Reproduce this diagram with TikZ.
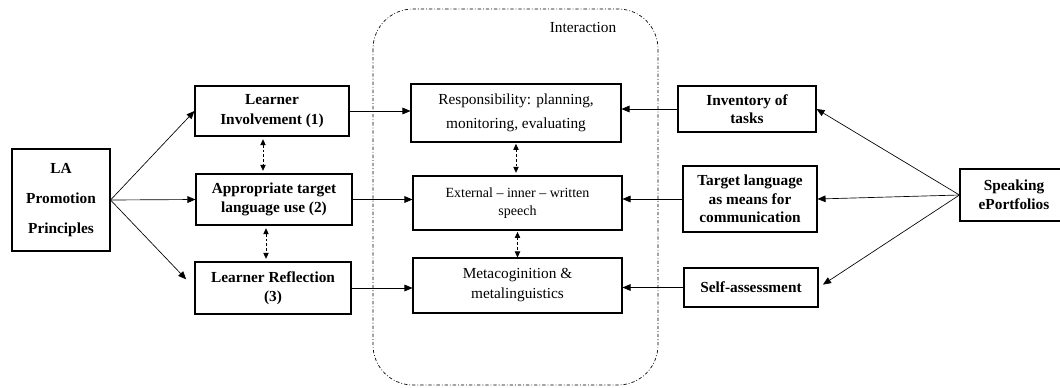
\documentclass[tikz,border=0pt]{standalone}
\usepackage{fontspec}
\setmainfont{Liberation Serif}
\usetikzlibrary{arrows.meta}

\begin{document}
\begin{tikzpicture}[x=0.75pt, y=-0.75pt,
        box/.style={draw, line width=0.8pt, align=center, inner sep=0pt, font=\fontsize{11.5}{14.5}\selectfont\bfseries},
        midbox/.style={draw, line width=0.8pt, align=center, inner sep=0pt, font=\fontsize{11.5}{15}\selectfont},
        arr/.style={-{Triangle[length=6pt,width=5pt]}, line width=0.5pt},
        dbl/.style={{Triangle[length=4.5pt,width=4pt]}-{Triangle[length=4.5pt,width=4pt]}, line width=0.6pt, dash pattern=on 2pt off 1.5pt}]
        \useasboundingbox (0,0) rectangle (1060,387);

        \draw[line width=0.5pt, dash pattern=on 2.5pt off 1.5pt on 0.6pt off 1.5pt, rounded corners=30pt] (373,9) rectangle (658,385);
        \node[font=\fontsize{11.5}{14}\selectfont] (interaction) at (583,27) {Interaction};

        \node[box, minimum width=73.5pt, minimum height=76.5pt] (la) at (61,200) {LA\\[8pt]Promotion\\[8pt]Principles};

        \node[box, minimum width=115.5pt, minimum height=37.5pt] (inv) at (272,111) {Learner\\Involvement (1)};
        \node[box, minimum width=117pt, minimum height=38.25pt] (use) at (274,199.5) {Appropriate target\\language use (2)};
        \node[box, minimum width=117pt, minimum height=39pt] (refl) at (273,288) {Learner Reflection\\(3)};

        \node[midbox, minimum width=157.5pt, minimum height=43.5pt] (resp) at (516,113) {Responsibility: planning,\\[3pt]monitoring, evaluating};
        \node[midbox, minimum width=156.75pt, minimum height=40.5pt, font=\fontsize{10.5}{13.5}\selectfont] (speech) at (517.5,203) {External -- inner -- written\\speech};
        \node[midbox, minimum width=156.75pt, minimum height=41.25pt] (meta) at (517.5,285.5) {Metacoginition \&\\metalinguistics};

        \node[box, minimum width=103.5pt, minimum height=34.5pt, font=\fontsize{11.5}{13.5}\selectfont\bfseries] (tasks) at (747,109) {Inventory of\\tasks};
        \node[box, minimum width=100.5pt, minimum height=49.5pt, font=\fontsize{11.5}{14}\selectfont\bfseries] (comm) at (750,199) {Target language\\as means for\\communication};
        \node[box, minimum width=100.5pt, minimum height=29.25pt] (self) at (751,287.5) {Self-assessment};

        \node[box, minimum width=81pt, minimum height=39pt] (port) at (1014,195) {Speaking\\ePortfolios};

        \draw[arr] (la.east) -- (inv.west);
        \draw[arr] (la.east) -- (use.west);
        \draw[arr, shorten >=9pt] (la.east) -- (refl.west);

        \coordinate (d1) at ([xshift=-6.75pt]inv.south);
        \coordinate (d2) at ([xshift=-6pt]use.south);
        \draw[dbl, shorten <=2pt, shorten >=2pt] (d1) -- (d1 |- use.north);
        \draw[dbl, shorten <=2pt, shorten >=2pt] (d2) -- (d2 |- refl.north);
        \draw[dbl, shorten <=1pt, shorten >=2pt] (resp.south) -- (resp.south |- speech.north);
        \draw[dbl, shorten <=1pt] (speech.south) -- (speech.south |- meta.north);

        \draw[arr] (inv.east) -- (inv.east -| resp.west);
        \draw[arr] (use.east) -- (use.east -| speech.west);
        \draw[arr] (refl.east) -- (refl.east -| meta.west);

        \draw[arr] (tasks.west) -- (tasks.west -| resp.east);
        \draw[arr] (comm.west) -- (comm.west -| speech.east);
        \draw[arr] (self.west) -- (self.west -| meta.east);

        \draw[arr] (port.west) -- (tasks.east);
        \draw[arr] (port.west) -- (comm.east);
        \draw[arr, shorten >=4pt] (port.west) -- (self.east);
    \end{tikzpicture}
\end{document}
